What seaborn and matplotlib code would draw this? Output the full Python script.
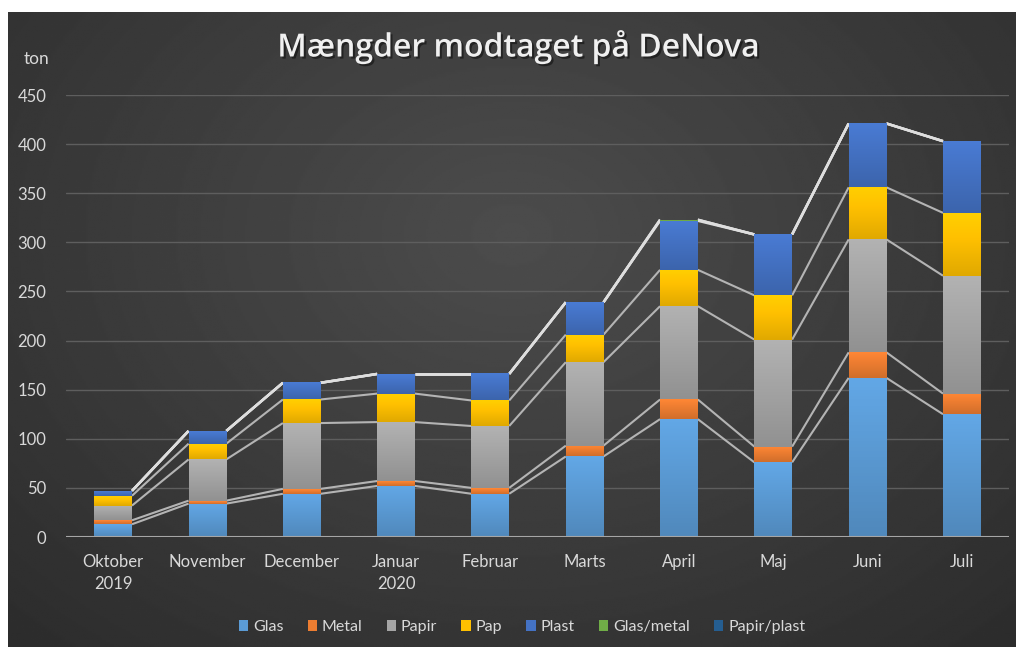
import numpy as np
import pandas as pd
import matplotlib.pyplot as plt
import matplotlib.patheffects as pe
import seaborn as sns
from matplotlib.patches import Patch

# data (ton)
months = ["Oktober\n2019", "November", "December", "Januar\n2020", "Februar",
          "Marts", "April", "Maj", "Juni", "Juli"]
glas = [13, 34, 44, 52, 44, 82, 120, 76, 162, 125]
metal = [4, 3, 5, 5, 6, 11, 20, 16, 26, 21]
papir = [15, 42, 67, 60, 63, 85, 95, 109, 115, 120]
pap = [10, 16, 24, 29, 26, 28, 37, 45, 53, 64]
plast = [5, 13, 17, 20, 27, 33, 50, 62, 65, 73]
glas_metal = [0, 0, 0, 0, 0, 0, 1, 0, 0, 0]
papir_plast = [0, 0, 0, 0, 0, 0, 0, 0, 0, 0]

series = ["Glas", "Metal", "Papir", "Pap", "Plast", "Glas/metal", "Papir/plast"]
values = [glas, metal, papir, pap, plast, glas_metal, papir_plast]
colors = ["#5B9BD5", "#ED7D31", "#A5A5A5", "#FFC000", "#4472C4", "#70AD47", "#255E91"]

df = pd.DataFrame(dict(zip(series, values)), index=months)
cum = df.cumsum(axis=1)

sns.set_theme(style="dark")
plt.rcParams["font.family"] = ["Lato", "DejaVu Sans"]
txt = "#d9d9d9"

fig = plt.figure(figsize=(10.16, 6.47), dpi=100)
fig.patch.set_facecolor("white")

# dark background with soft radial light
bg = fig.add_axes([8 / 1016, 0, 1008 / 1016, 635 / 647], zorder=-5)
yy, xx = np.mgrid[0:1:300j, 0:1:500j]
r = np.sqrt(((xx - 0.5) / 0.75) ** 2 + ((yy - 0.35) / 0.9) ** 2)
shade = np.clip(0.30 - 0.13 * r, 0.16, 0.30)
bg.imshow(shade, cmap="gray", vmin=0, vmax=1, aspect="auto", extent=[0, 1, 0, 1])
bg.set_axis_off()

ax = fig.add_axes([66 / 1016, 1 - 537 / 647, 943 / 1016, 442 / 647])
ax.set_facecolor("none")

width = 0.4
# stacked bars: draw totals from top down so each layer covers the ones above it
for name, col in reversed(list(zip(series, colors))):
    sns.barplot(x=cum.index, y=cum[name].values, color=col, width=width,
                saturation=1, ax=ax, zorder=3, linewidth=0)

# vertical gradient inside each visible segment
x_pos = np.arange(len(months))
grad = np.linspace(0, 1, 50).reshape(-1, 1)
for k, (name, col) in enumerate(zip(series, colors)):
    top = cum[name].values
    low = cum[series[k - 1]].values if k > 0 else np.zeros(len(months))
    rgb = np.array(plt.matplotlib.colors.to_rgb(col))
    for i in range(len(months)):
        if top[i] - low[i] <= 0:
            continue
        img = np.clip(rgb * (0.88 + 0.2 * grad[..., None]), 0, 1)
        img = np.repeat(img, 2, axis=1)
        ax.imshow(img, origin="lower", aspect="auto", zorder=4,
                  extent=[x_pos[i] - width / 2, x_pos[i] + width / 2, low[i], top[i]])

# series lines between bars
for k, name in enumerate(series):
    c = cum[name].values
    top_line = name in ("Plast", "Glas/metal", "Papir/plast")
    lc = "#dedede" if top_line else "#b4b4b4"
    lw = 1.8 if top_line else 1.5
    for i in range(len(months) - 1):
        ax.plot([x_pos[i] + width / 2, x_pos[i + 1] - width / 2], [c[i], c[i + 1]],
                color=lc, lw=lw, zorder=2, solid_capstyle="butt")

ax.set_xlim(-0.5, len(months) - 0.5)
ax.set_ylim(0, 450)
ax.set_yticks(np.arange(0, 451, 50))
ax.grid(axis="y", color="#5e5e5e", lw=1, zorder=0)
ax.grid(axis="x", visible=False)
ax.axhline(0, color="#a6a6a6", lw=1.5, zorder=5)
for s in ax.spines.values():
    s.set_visible(False)
ax.tick_params(axis="both", length=0, colors=txt, labelsize=12)
ax.tick_params(axis="y", pad=14)
ax.tick_params(axis="x", pad=12)
for lab in ax.get_xticklabels():
    lab.set_linespacing(1.45)
ax.set_xlabel("")
ax.set_ylabel("")

fig.text(37 / 1016, 1 - 59 / 647, "ton", color=txt, fontsize=12.5, ha="center", va="center")

fig.text(519 / 1016, 1 - 47 / 647, "Mængder modtaget på DeNova", color="#f0f0f0",
         fontsize=23, fontweight="semibold", family=["Open Sans", "DejaVu Sans"],
         ha="center", va="center",
         path_effects=[pe.withSimplePatchShadow(offset=(1.5, -1.5), shadow_rgbFace="black", alpha=0.45)])

handles = [Patch(facecolor=c, edgecolor="none", label=s) for s, c in zip(series, colors)]
fig.legend(handles=handles, loc="center", bbox_to_anchor=(522 / 1016, 1 - 627 / 647),
           ncol=7, frameon=False, fontsize=11.5, labelcolor=txt, handlelength=0.6,
           handleheight=0.75, handletextpad=0.3, columnspacing=1.5)

fig.savefig("out.png", dpi=100)
